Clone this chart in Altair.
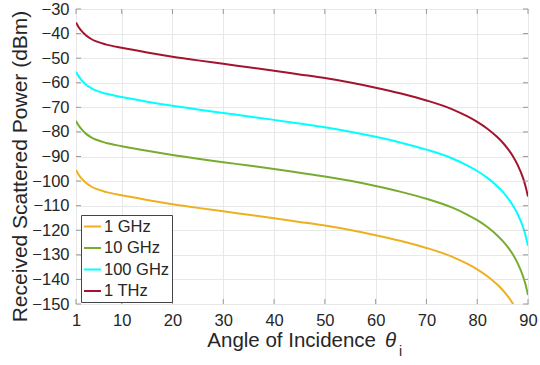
import altair as alt
import pandas as pd

# Angle of incidence (degrees) at which each curve is sampled
angle = [1, 1.5, 2, 3, 4, 5, 7, 10, 15, 20, 25, 30, 35, 40, 45, 50, 55, 60,
         65, 70, 75, 78, 80, 82, 84, 85, 86, 87, 88, 89, 89.5, 90]

# Received scattered power (dBm) for each carrier frequency
p_1ghz = [-95.5, -97.3, -98.7, -100.8, -102.2, -103.2, -104.5, -105.8, -107.7,
          -109.4, -110.9, -112.3, -113.7, -115.1, -116.6, -118.1, -119.9, -122.0,
          -124.4, -127.2, -130.7, -133.6, -135.9, -138.7, -142.2, -144.3, -146.8,
          -149.8, -153.6, None, None, None]
p_10ghz = [-75.5, -77.3, -78.7, -80.8, -82.2, -83.2, -84.5, -85.8, -87.7,
           -89.4, -90.9, -92.3, -93.7, -95.1, -96.6, -98.1, -99.9, -102.0,
           -104.4, -107.2, -110.7, -113.6, -115.9, -118.7, -122.2, -124.3, -126.8,
           -129.8, -133.6, -138.6, -142.0, -146.3]
p_100ghz = [-55.5, -57.3, -58.7, -60.8, -62.2, -63.2, -64.5, -65.8, -67.7,
            -69.4, -70.9, -72.3, -73.7, -75.1, -76.6, -78.1, -79.9, -82.0,
            -84.4, -87.2, -90.7, -93.6, -95.9, -98.7, -102.2, -104.3, -106.8,
            -109.8, -113.6, -118.6, -122.0, -126.3]
p_1thz = [-35.5, -37.3, -38.7, -40.8, -42.2, -43.2, -44.5, -45.8, -47.7,
          -49.4, -50.9, -52.3, -53.7, -55.1, -56.6, -58.1, -59.9, -62.0,
          -64.4, -67.2, -70.7, -73.6, -75.9, -78.7, -82.2, -84.3, -86.8,
          -89.8, -93.6, -98.6, -102.0, -106.3]

series_names = ["1 GHz", "10 GHz", "100 GHz", "1 THz"]
series_colors = ["#EDB120", "#77AC30", "#00FFFF", "#A2142F"]

x_ticks = [1, 10, 20, 30, 40, 50, 60, 70, 80, 90]
y_ticks = [-150, -140, -130, -120, -110, -100, -90, -80, -70, -60, -50, -40, -30]

rows = []
for name, values in zip(series_names, [p_1ghz, p_10ghz, p_100ghz, p_1thz]):
    for a, v in zip(angle, values):
        if v is not None:
            rows.append({"angle": a, "power": v, "freq": name})
df = pd.DataFrame(rows)

W, H = 452, 295
FONT = "Liberation Sans"
TXT = "#262626"
EDGE = "#999999"

xs = alt.Scale(domain=[1, 90], nice=False, zero=False)
ys = alt.Scale(domain=[-150, -30], nice=False, zero=False)

x_axis = alt.Axis(values=x_ticks, title=None, grid=True, labelPadding=8, labelFlush=False)
y_axis = alt.Axis(values=y_ticks, title="Received Scattered Power (dBm)", grid=True,
                  labelPadding=7, titleX=-50, titleY=157, titleAngle=270,
                  titleBaseline="alphabetic", titleAlign="center", titleFontSize=21,
                  labelExpr="replace(datum.label, '-', '\u2212')")

lines = alt.Chart(df).mark_line(strokeWidth=2, clip=True, interpolate="monotone").encode(
    x=alt.X("angle:Q", scale=xs, axis=x_axis),
    y=alt.Y("power:Q", scale=ys, axis=y_axis),
    color=alt.Color("freq:N",
                    scale=alt.Scale(domain=series_names, range=series_colors),
                    sort=series_names,
                    legend=alt.Legend(title=None, orient="none", legendX=5, legendY=206,
                                      strokeColor="#444444", fillColor="white", padding=2,
                                      symbolType="stroke", symbolSize=289,
                                      symbolStrokeWidth=2, labelFontSize=16.5, labelFont=FONT,
                                      labelColor=TXT, rowPadding=3.5, labelOffset=2,
                                      cornerRadius=0)),
)

# inward tick marks on all four sides of the box
xt = pd.DataFrame({"t": x_ticks})
yt = pd.DataFrame({"t": y_ticks})
tick_style = dict(color=EDGE, strokeWidth=1)
tick_bottom = alt.Chart(xt).mark_rule(**tick_style).encode(
    x=alt.X("t:Q", scale=xs, axis=x_axis), y=alt.value(H), y2=alt.value(H - 5))
tick_top = alt.Chart(xt).mark_rule(**tick_style).encode(
    x=alt.X("t:Q", scale=xs, axis=x_axis), y=alt.value(0), y2=alt.value(5))
tick_left = alt.Chart(yt).mark_rule(**tick_style).encode(
    y=alt.Y("t:Q", scale=ys, axis=y_axis), x=alt.value(0), x2=alt.value(5))
tick_right = alt.Chart(yt).mark_rule(**tick_style).encode(
    y=alt.Y("t:Q", scale=ys, axis=y_axis), x=alt.value(W - 5), x2=alt.value(W))

# x-axis title with italic theta and subscript i
lbl = pd.DataFrame({"s": ["Angle of Incidence"], "th": ["θ"], "sub": ["i"]})
title_main = alt.Chart(lbl).mark_text(align="right", baseline="alphabetic", fontSize=20.5,
                                      font=FONT, color=TXT).encode(
    x=alt.value(300), y=alt.value(338), text="s:N")
title_theta = alt.Chart(lbl).mark_text(align="left", baseline="alphabetic", fontSize=20.5,
                                       font=FONT, fontStyle="italic", color=TXT).encode(
    x=alt.value(309), y=alt.value(338), text="th:N")
title_sub = alt.Chart(lbl).mark_text(align="left", baseline="alphabetic", fontSize=14,
                                     font=FONT, color=TXT).encode(
    x=alt.value(323), y=alt.value(347), text="sub:N")

chart = alt.layer(
    lines, tick_bottom, tick_top, tick_left, tick_right, title_main, title_theta, title_sub
).properties(
    width=W, height=H,
    autosize=alt.AutoSizeParams(type="none"),
    padding={"left": 76, "top": 9, "right": 12, "bottom": 61},
    background="white",
).configure_view(
    stroke=EDGE, strokeWidth=1
).configure_axis(
    domain=False, ticks=False, gridColor="#e8e8e8", gridWidth=1,
    labelFont=FONT, labelFontSize=16.5, labelColor=TXT,
    titleFont=FONT, titleFontSize=20, titleFontWeight="normal", titleColor=TXT,
)

chart.save("out.html", embed_options={"renderer": "svg", "actions": False})
